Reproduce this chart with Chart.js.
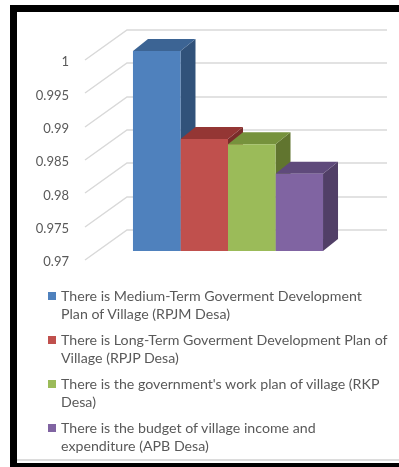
<!DOCTYPE html>
<html>
<head>
<meta charset="utf-8">
<script src="https://cdn.jsdelivr.net/npm/chart.js@4.4.0/dist/chart.umd.min.js"></script>
<style>
  html, body { margin: 0; padding: 0; background: #fff; }
  body { width: 399px; height: 467px; position: relative; overflow: hidden; font-family: Lato, "Open Sans", sans-serif; }
  #frame { position: absolute; left: 10px; top: 5px; width: 400px; height: 451px;
           border-left: 7px solid #000; border-top: 7px solid #000; border-bottom: 4px solid #000; }
  #frame-line { position: absolute; left: 17px; top: 459px; width: 382px; height: 2px; background: #dcdcdc; }
  #chart { position: absolute; left: 0; top: 0; }
  #legend { position: absolute; left: 48px; top: 287px; width: 345px; }
  .item { position: relative; padding-left: 13px; line-height: 18px; font-size: 14.2px; color: #595959; margin-bottom: 8px; }
  .box { position: absolute; left: 0; top: 5px; width: 8px; height: 8px; }
</style>
</head>
<body>
<div id="frame"></div>
<div id="frame-line"></div>
<canvas id="chart" width="399" height="290"></canvas>
<div id="legend"></div>

<script>
// One category, four series (one bar each)
const categories = [''];
const seriesNames = [
    ['There is Medium-Term Goverment Development', 'Plan of Village (RPJM Desa)'],
    ['There is Long-Term Goverment Development Plan of', 'Village (RPJP Desa)'],
    ["There is the government's work plan of village (RKP", 'Desa)'],
    ['There is the budget of village income and', 'expenditure (APB Desa)']
];
const rpjmValues = [1];
const rpjpValues = [0.9868];
const rkpValues = [0.986];
const apbValues = [0.9816];

// Y axis ticks
const tickValues = [0.97, 0.975, 0.98, 0.985, 0.99, 0.995, 1];
const tickLabels = ['0.97', '0.975', '0.98', '0.985', '0.99', '0.995', '1'];

// Colours: front face, top face, side face
const frontColors = ['#4F81BD', '#C0504D', '#9BBB59', '#8064A2'];
const topColors = ['#3C6494', '#943634', '#76923C', '#5F4A7B'];
const sideColors = ['#31527A', '#7A2C2A', '#61752F', '#513F67'];

// 3D look: depth offsets in pixels
const barDepthX = 15, barDepthY = 12;

// Draws the walls' gridlines and the top/side faces of the bars
const depthPlugin = {
    id: 'depth3d',
    beforeDatasetsDraw(chart) {
        const ctx = chart.ctx;
        const yScale = chart.scales.y;
        const area = chart.chartArea;

        ctx.save();
        ctx.strokeStyle = '#d9d9d9';
        ctx.lineWidth = 1.5;
        yScale.ticks.forEach(t => {
            const py = Math.round(yScale.getPixelForValue(t.value));
            ctx.beginPath();
            ctx.moveTo(area.left - 13, py + 9);
            ctx.lineTo(area.left + 29, py - 21);
            ctx.lineTo(area.right + 29, py - 21);
            ctx.stroke();
        });

        chart.data.datasets.forEach((ds, i) => {
            const bar = chart.getDatasetMeta(i).data[0];
            const p = bar.getProps(['x', 'y', 'width'], true);
            const base = area.bottom; // axis starts at 0.97, not at zero
            const l = p.x - p.width / 2;
            const r = p.x + p.width / 2;

            // side face
            ctx.fillStyle = sideColors[i];
            ctx.beginPath();
            ctx.moveTo(r, p.y);
            ctx.lineTo(r + barDepthX, p.y - barDepthY);
            ctx.lineTo(r + barDepthX, base - barDepthY);
            ctx.lineTo(r, base);
            ctx.closePath();
            ctx.fill();

            // top face
            ctx.fillStyle = topColors[i];
            ctx.beginPath();
            ctx.moveTo(l, p.y);
            ctx.lineTo(r, p.y);
            ctx.lineTo(r + barDepthX, p.y - barDepthY);
            ctx.lineTo(l + barDepthX, p.y - barDepthY);
            ctx.closePath();
            ctx.fill();
        });
        ctx.restore();
    }
};

const allValues = [rpjmValues, rpjpValues, rkpValues, apbValues];

const data = {
    labels: categories,
    datasets: allValues.map((vals, i) => ({
        label: seriesNames[i].join(' '),
        data: vals,
        backgroundColor: frontColors[i],
        borderWidth: 0,
        categoryPercentage: 0.731,
        barPercentage: 1
    }))
};

const chart = new Chart(document.getElementById('chart'), {
    type: 'bar',
    data: data,
    options: {
        responsive: false,
        animation: false,
        layout: { padding: { left: 0, top: 51, right: 41, bottom: 39 } },
        plugins: {
            legend: { display: false },
            tooltip: { enabled: false }
        },
        scales: {
            x: { display: false },
            y: {
                min: 0.97,
                max: 1,
                afterBuildTicks(scale) {
                    scale.ticks = tickValues.map(v => ({ value: v }));
                },
                afterFit(scale) {
                    scale.width = 98;
                },
                grid: { display: false, drawTicks: false },
                border: { display: false },
                ticks: {
                    padding: 29,
                    labelOffset: 11,
                    color: '#595959',
                    font: { family: 'Lato', size: 13 },
                    callback: (value, index) => tickLabels[index]
                }
            }
        }
    },
    plugins: [depthPlugin]
});

// HTML legend built from the datasets
const legendEl = document.getElementById('legend');
chart.data.datasets.forEach((ds, i) => {
    const item = document.createElement('div');
    item.className = 'item';
    const box = document.createElement('span');
    box.className = 'box';
    box.style.background = ds.backgroundColor;
    item.appendChild(box);
    seriesNames[i].forEach((line, j) => {
        if (j > 0) item.appendChild(document.createElement('br'));
        item.appendChild(document.createTextNode(line));
    });
    legendEl.appendChild(item);
});
</script>
</body>
</html>
